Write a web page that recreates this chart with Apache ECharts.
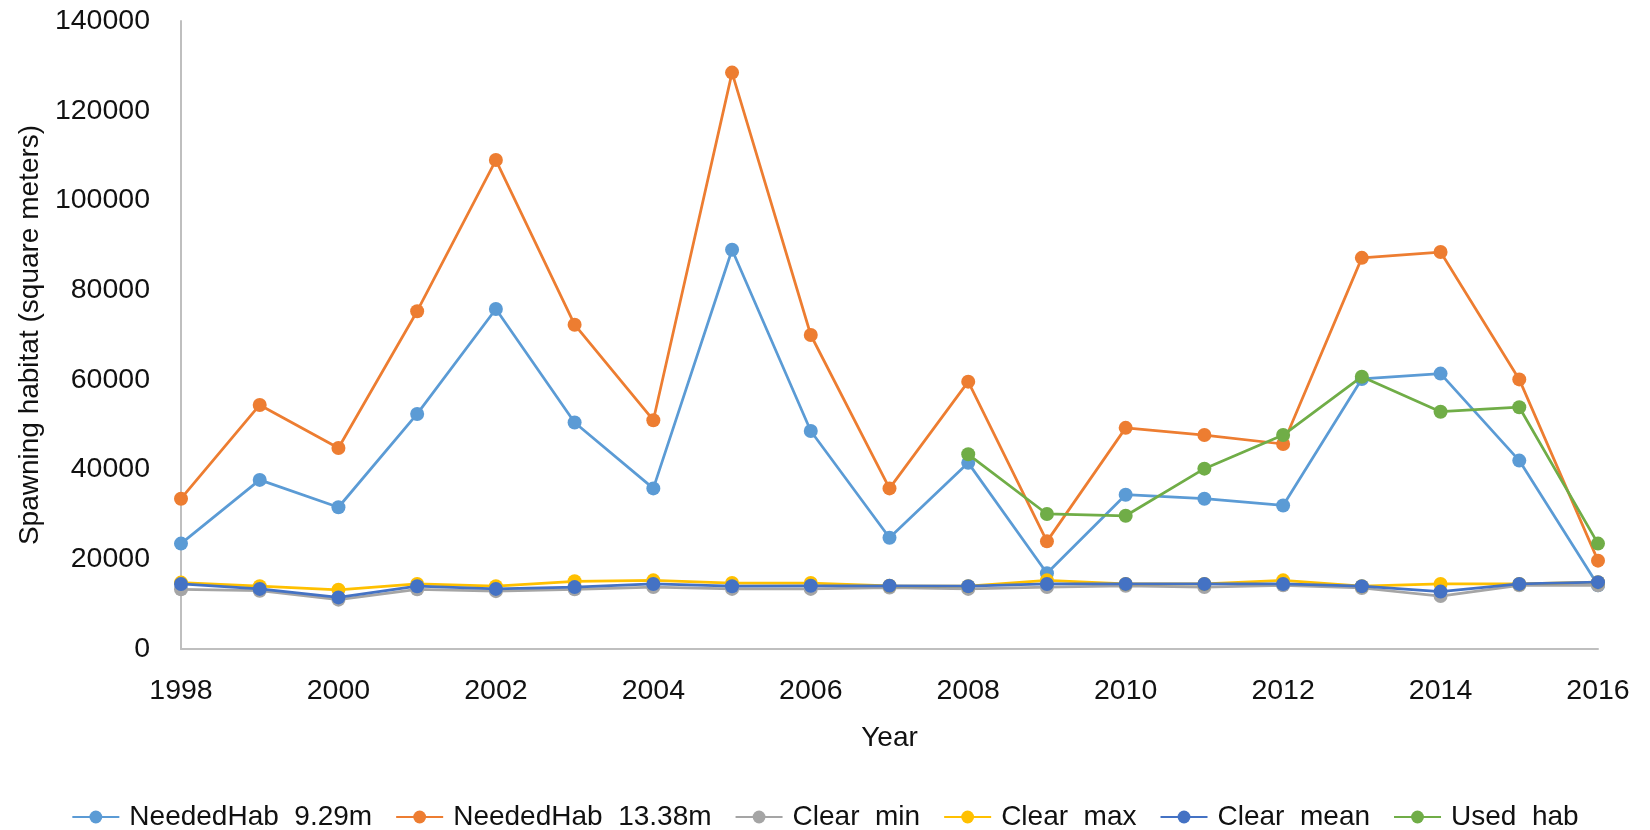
<!DOCTYPE html>
<html>
<head>
<meta charset="utf-8">
<script src="https://cdn.jsdelivr.net/npm/echarts@6/dist/echarts.min.js"></script>
<style>
html,body{margin:0;padding:0;background:#fff;}
#chart{width:1650px;height:830px;}
</style>
</head>
<body>
<div id="chart"></div>
<script>
const years = ['1998','1999','2000','2001','2002','2003','2004','2005','2006','2007','2008','2009','2010','2011','2012','2013','2014','2015','2016'];
const neededHab929 = [23500, 37700, 31600, 52400, 75800, 50500, 35800, 89000, 48600, 24800, 41500, 16900, 34400, 33500, 32000, 60200, 61400, 42000, 14200];
const neededHab1338 = [33500, 54400, 44800, 75300, 109000, 72300, 51000, 128500, 70000, 35800, 59600, 24000, 49300, 47700, 45700, 87200, 88500, 60100, 19700];
const clearMin = [13300, 13000, 11000, 13300, 12900, 13300, 13800, 13400, 13400, 13700, 13400, 13800, 14100, 13800, 14200, 13600, 11800, 14200, 14200];
const clearMax = [14800, 14000, 13200, 14500, 14000, 15100, 15300, 14700, 14700, 14100, 14000, 15300, 14500, 14500, 15300, 14000, 14500, 14500, 14900];
const clearMean = [14500, 13400, 11500, 14000, 13400, 13800, 14500, 14000, 14100, 14100, 14000, 14500, 14500, 14500, 14500, 14000, 12800, 14500, 14900];
const usedHab = [null, null, null, null, null, null, null, null, null, null, 43400, 30100, 29700, 40200, 47700, 60700, 52900, 53900, 23500];
const seriesNames = ['NeededHab  9.29m', 'NeededHab  13.38m', 'Clear  min', 'Clear  max', 'Clear  mean', 'Used  hab'];
const colors = ['#5B9BD5', '#ED7D31', '#A5A5A5', '#FFC000', '#4472C4', '#70AD47'];
const yTicks = { min: 0, max: 140000, interval: 20000 };

const FONT = 'Liberation Sans';
const dataSets = [neededHab929, neededHab1338, clearMin, clearMax, clearMean, usedHab];

const chart = echarts.init(document.getElementById('chart'));
chart.setOption({
  animation: false,
  color: colors,
  textStyle: { fontFamily: FONT },
  grid: { left: 181, right: 52, top: 21, bottom: 181, containLabel: false },
  legend: {
    top: 798,
    left: 'center',
    itemWidth: 47,
    itemHeight: 16,
    itemGap: 23,
    textStyle: { fontSize: 28, color: '#111', fontFamily: FONT, padding: [0, 0, 0, 5] },
    data: seriesNames
  },
  xAxis: {
    type: 'category',
    data: years,
    boundaryGap: false,
    name: 'Year',
    nameLocation: 'middle',
    nameGap: 75,
    nameTextStyle: { fontSize: 28, color: '#111', fontFamily: FONT },
    axisLine: { show: true, lineStyle: { color: '#BFBFBF', width: 2 } },
    axisTick: { show: false },
    axisLabel: { interval: 1, margin: 28, fontSize: 28.5, color: '#111', fontFamily: FONT },
    splitLine: { show: false }
  },
  yAxis: {
    type: 'value',
    min: yTicks.min,
    max: yTicks.max,
    interval: yTicks.interval,
    name: 'Spawning habitat (square meters)',
    nameLocation: 'middle',
    nameGap: 137,
    nameTextStyle: { fontSize: 28, color: '#111', fontFamily: FONT },
    axisLine: { show: true, lineStyle: { color: '#BFBFBF', width: 2 } },
    axisTick: { show: false },
    axisLabel: { margin: 31, fontSize: 28.5, color: '#111', fontFamily: FONT, formatter: v => String(v) },
    splitLine: { show: false }
  },
  series: seriesNames.map((n, i) => ({
    name: n,
    type: 'line',
    data: dataSets[i],
    symbol: 'circle',
    symbolSize: 14,
    showSymbol: true,
    connectNulls: false,
    lineStyle: { width: 2.75, color: colors[i] },
    itemStyle: { color: colors[i] },
    emphasis: { disabled: true },
    z: 2 + i
  }))
});
</script>
</body>
</html>
